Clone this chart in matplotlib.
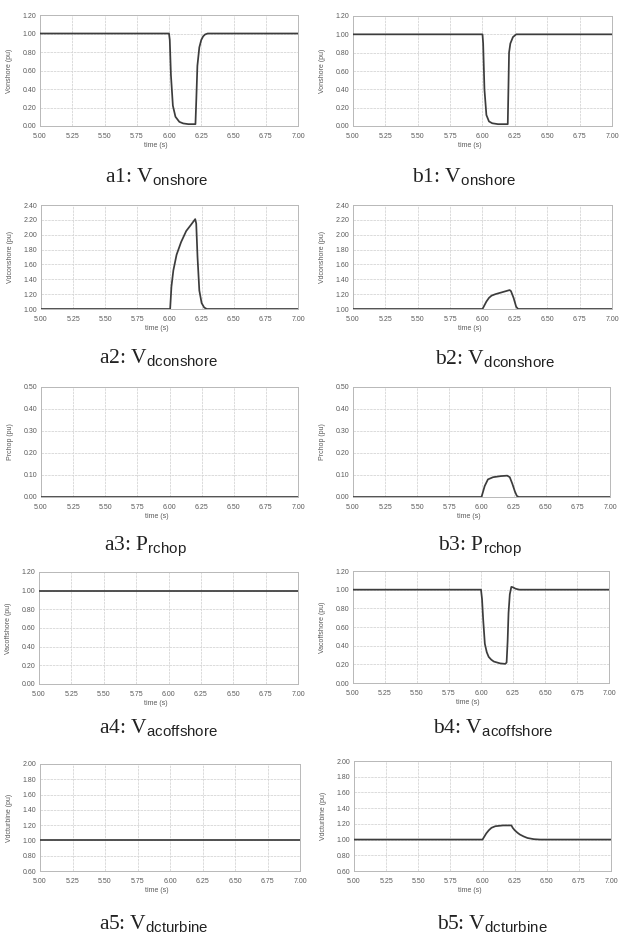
import matplotlib
matplotlib.use("Agg")
import matplotlib.pyplot as plt
import numpy as np

plt.rcParams['mathtext.fontset'] = 'custom'
plt.rcParams['mathtext.rm'] = 'Liberation Serif'
plt.rcParams['mathtext.sf'] = 'Liberation Sans'
plt.rcParams['font.family'] = ['Liberation Sans', 'DejaVu Sans']

# ---------------- data ----------------
x_ticks = [5.00, 5.25, 5.50, 5.75, 6.00, 6.25, 6.50, 6.75, 7.00]

# a1 / b1 : V onshore
t_a1 = [5.00, 6.000, 6.006, 6.015, 6.03, 6.05, 6.08, 6.11, 6.15, 6.205, 6.212, 6.22, 6.235, 6.25, 6.265, 6.28, 6.30, 7.00]
v_a1 = [1.00, 1.00, 0.93, 0.55, 0.22, 0.10, 0.045, 0.028, 0.02, 0.02, 0.30, 0.65, 0.85, 0.93, 0.97, 0.99, 1.00, 1.00]
t_b1 = [5.00, 6.00, 6.005, 6.015, 6.03, 6.05, 6.075, 6.12, 6.195, 6.20, 6.205, 6.215, 6.235, 6.26, 7.00]
v_b1 = [1.00, 1.00, 0.90, 0.40, 0.12, 0.05, 0.03, 0.02, 0.02, 0.40, 0.80, 0.90, 0.97, 1.00, 1.00]

# a2 / b2 : V dc onshore
t_a2 = [5.00, 6.005, 6.015, 6.03, 6.055, 6.09, 6.13, 6.17, 6.20, 6.208, 6.218, 6.232, 6.25, 6.27, 6.29, 7.00]
v_a2 = [1.00, 1.00, 1.30, 1.52, 1.73, 1.90, 2.05, 2.14, 2.21, 2.15, 1.70, 1.25, 1.08, 1.02, 1.00, 1.00]
t_b2 = [5.00, 6.00, 6.015, 6.03, 6.05, 6.07, 6.10, 6.14, 6.18, 6.21, 6.22, 6.24, 6.26, 6.275, 7.00]
v_b2 = [1.00, 1.00, 1.05, 1.10, 1.15, 1.18, 1.20, 1.22, 1.24, 1.255, 1.24, 1.15, 1.03, 1.00, 1.00]

# a3 / b3 : P rchop
t_a3 = [5.00, 7.00]
v_a3 = [0.00, 0.00]
t_b3 = [5.00, 6.00, 6.01, 6.025, 6.05, 6.09, 6.15, 6.20, 6.22, 6.24, 6.26, 6.275, 6.29, 7.00]
v_b3 = [0.00, 0.00, 0.02, 0.05, 0.08, 0.09, 0.095, 0.097, 0.09, 0.06, 0.025, 0.005, 0.00, 0.00]

# a4 / b4 : V ac offshore
t_a4 = [5.00, 7.00]
v_a4 = [1.00, 1.00]
t_b4 = [5.00, 6.00, 6.008, 6.017, 6.03, 6.045, 6.06, 6.08, 6.10, 6.15, 6.19, 6.20, 6.208, 6.215, 6.225, 6.237, 6.25, 6.27, 6.30, 7.00]
v_b4 = [1.00, 1.00, 0.90, 0.68, 0.42, 0.33, 0.28, 0.25, 0.23, 0.21, 0.205, 0.22, 0.45, 0.75, 0.95, 1.03, 1.025, 1.01, 1.00, 1.00]

# a5 / b5 : V dc turbine
t_a5 = [5.00, 7.00]
v_a5 = [1.00, 1.00]
t_b5 = [5.00, 6.00, 6.015, 6.03, 6.05, 6.07, 6.10, 6.16, 6.225, 6.235, 6.25, 6.27, 6.29, 6.32, 6.35, 6.40, 6.45, 7.00]
v_b5 = [1.00, 1.00, 1.04, 1.08, 1.12, 1.15, 1.17, 1.18, 1.18, 1.15, 1.12, 1.09, 1.065, 1.04, 1.02, 1.005, 1.00, 1.00]

ylabels = ["Vonshore (pu)", "Vdconshore (pu)", "Prchop (pu)", "Vacoffshore (pu)", "Vdcturbine (pu)"]
ylims = [(0.0, 1.2), (1.0, 2.4), (0.0, 0.5), (0.0, 1.2), (0.6, 2.0)]
ysteps = [0.2, 0.2, 0.1, 0.2, 0.2]
cap_main = ["P" if i == 2 else "V" for i in range(5)]
cap_sub = ["onshore", "dconshore", "rchop", "acoffshore", "dcturbine"]

series_a = [(t_a1, v_a1), (t_a2, v_a2), (t_a3, v_a3), (t_a4, v_a4), (t_a5, v_a5)]
series_b = [(t_b1, v_b1), (t_b2, v_b2), (t_b3, v_b3), (t_b4, v_b4), (t_b5, v_b5)]

# ---------------- layout (pixels) ----------------
W, H = 626, 935
fig = plt.figure(figsize=(W / 100, H / 100), dpi=100)
fig.patch.set_facecolor('white')

# left, right, top, bottom
boxes_a = [(40, 298, 15, 126), (41, 298, 205, 309), (41, 298, 387, 497), (39, 298, 572, 684), (40, 300, 764, 871)]
boxes_b = [(353, 612, 16, 126), (353, 612, 205, 309), (353, 610, 387, 497), (353, 609, 571, 683), (354, 611, 761, 871)]
cap_a = [(105, 182), (99, 363), (104, 550), (99, 733), (99, 929)]
cap_b = [(412, 182), (435, 364), (438, 550), (433, 733), (437, 929)]

grid_c = '#d6d6d6'
spine_c = '#b8b8b8'
line_c = '#3c3c3c'
txt_c = '#5a5a5a'


def make_ax(box, t, v, i):
    l, r, top, bot = box
    ax = fig.add_axes([l / W, 1 - bot / H, (r - l) / W, (bot - top) / H])
    ax.plot(t, v, color=line_c, lw=1.25, solid_joinstyle='round', zorder=3)
    ax.set_xlim(5.0, 7.0)
    lo, hi = ylims[i]
    ax.set_ylim(lo, hi)
    ax.set_xticks(x_ticks)
    ax.set_xticklabels([f"{x:.2f}" for x in x_ticks])
    yt = np.round(np.arange(lo, hi + 1e-9, ysteps[i]), 2)
    ax.set_yticks(yt)
    ax.set_yticklabels([f"{y:.2f}" for y in yt])
    ax.tick_params(axis='both', length=0, labelsize=5, labelcolor=txt_c)
    ax.tick_params(axis='x', pad=5)
    ax.tick_params(axis='y', pad=2.5)
    ax.grid(True, color=grid_c, lw=0.6, ls=(0, (3, 1)))
    ax.set_axisbelow(True)
    for s in ax.spines.values():
        s.set_color(spine_c)
        s.set_linewidth(0.7)
    ax.set_ylabel(ylabels[i], fontsize=5, color=txt_c)
    ax.set_xlabel("time (s)", fontsize=5, color=txt_c)
    w = r - l
    h = bot - top
    ax.yaxis.set_label_coords(-27 / w, 0.5)
    ax.xaxis.set_label_coords(0.45, -16 / h)
    return ax


for i in range(5):
    make_ax(boxes_a[i], *series_a[i], i)
    make_ax(boxes_b[i], *series_b[i], i)
    for pre, (cx, cy) in (("a", cap_a[i]), ("b", cap_b[i])):
        fig.text(cx / W, 1 - cy / H,
                 f"{pre}{i+1}: {cap_main[i]}" + r"$_{\mathsf{" + cap_sub[i] + "}}$",
                 family='Liberation Serif', fontsize=15.5, color='#222222',
                 ha='left', va='baseline')

fig.savefig("out.png", dpi=100, facecolor='white')
